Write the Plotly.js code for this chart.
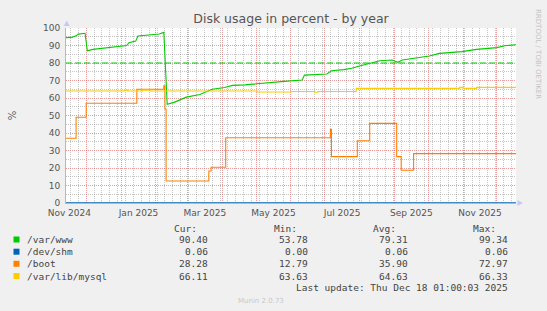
<!DOCTYPE html>
<html><head><meta charset="utf-8">
<script src="https://cdn.plot.ly/plotly-3.0.1.min.js"></script>
<style>html,body{margin:0;padding:0;background:#F0F0F0;overflow:hidden}</style>
</head><body><div id="chart" style="width:547px;height:311px"></div>
<script>
// ---- data ----
const xStart = "2024-11-13 01:00";
const xEnd = "2025-12-18 01:00";

const tickDates = ["2024-11-16","2025-01-16 12:00","2025-03-16 12:00","2025-05-16 12:00","2025-07-16 12:00","2025-09-16","2025-11-16"];
const tickLabels = ["Nov 2024","Jan 2025","Mar 2025","May 2025","Jul 2025","Sep 2025","Nov 2025"];

const wwwDates = ["2024-11-13","2024-11-19","2024-11-22","2024-11-24","2024-11-30","2024-12-02","2024-12-07","2024-12-13","2024-12-19","2024-12-25","2024-12-31","2025-01-06","2025-01-08","2025-01-12","2025-01-14","2025-01-16","2025-01-27","2025-02-04","2025-02-08","2025-02-09","2025-02-11","2025-02-17","2025-02-28","2025-03-12","2025-03-23","2025-04-03","2025-04-10","2025-04-21","2025-05-02","2025-05-13","2025-05-26","2025-06-11","2025-06-13","2025-07-03","2025-07-07","2025-07-18","2025-07-25","2025-08-01","2025-08-10","2025-08-19","2025-08-30","2025-09-04","2025-09-08","2025-09-23","2025-10-02","2025-10-11","2025-10-31","2025-11-13","2025-12-01","2025-12-08","2025-12-18"];
const wwwValues = [94.5,94.8,95.5,96.5,97.0,87.0,87.8,88.2,88.5,89.0,89.5,90.0,91.6,92.2,92.5,95.4,96.0,96.6,97.5,83.4,56.4,57.5,60.5,62.0,65.0,66.0,67.2,67.5,68.0,68.8,69.5,70.3,73.1,73.7,75.6,76.2,77.0,78.3,79.8,81.3,81.7,80.4,81.7,83.0,84.0,85.5,86.5,87.8,88.8,89.9,90.4];

const shmDates = ["2024-11-13","2025-12-18"];
const shmValues = [0.06,0.06];

const bootDates = ["2024-11-13","2024-11-22","2024-12-01","2025-01-15","2025-02-08","2025-02-09","2025-02-10","2025-03-20","2025-03-22","2025-04-04","2025-07-06","2025-07-07","2025-07-30","2025-08-10","2025-09-03","2025-09-07","2025-09-18","2025-12-18"];
const bootValues = [37.0,49.0,57.0,65.0,66.9,53.7,12.6,18.3,20.4,37.3,42.1,26.5,35.6,45.5,26.5,18.7,28.2,28.3];

const mysqlDates = ["2024-11-13","2025-01-04","2025-01-07","2025-01-20","2025-01-27","2025-05-02","2025-06-01","2025-06-22","2025-06-25","2025-07-29","2025-10-29","2025-11-01","2025-11-13","2025-12-18"];
const mysqlValues = [64.0,64.5,64.0,64.5,64.0,63.4,63.7,63.3,63.7,65.5,66.1,65.5,66.1,66.1];

const warningLevel = 80;

const seriesNames = ["/var/www","/dev/shm","/boot","/var/lib/mysql"];
const curValues = ["90.40","0.06","28.28","66.11"];
const minValues = ["53.78","0.00","12.79","63.63"];
const avgValues = ["79.31","0.06","35.90","64.63"];
const maxValues = ["99.34","0.06","72.97","66.33"];
const legendHeaders = ["Cur:","Min:","Avg:","Max:"];
const lastUpdate = "Last update: Thu Dec 18 01:00:03 2025";

// ---- styling / layout ----
const colors = ["#00CC00","#0066B3","#FF8000","#FFCC00"];
const L = 66, R = 516, T = 28, B = 203;
const W = R - L, H = B - T;
const px = x => (x - L) / W;
const py = y => (B - y) / H;
const mono = "DejaVu Sans Mono, monospace";
const sans = "DejaVu Sans, sans-serif";

const traces = [
  {x: wwwDates, y: wwwValues, mode:"lines", line:{color:colors[0], width:1.1}},
  {x: shmDates, y: shmValues, mode:"lines", line:{color:colors[1], width:1.1}},
  {x: bootDates, y: bootValues, mode:"lines", line:{color:colors[2], width:1.1, shape:"hv"}},
  {x: mysqlDates, y: mysqlValues, mode:"lines", line:{color:colors[3], width:1.1, shape:"hv"}},
  {x: [xStart, xEnd], y: [warningLevel, warningLevel], mode:"lines", xaxis:"x2",
   line:{color:"#00CC00", width:1.1, dash:"6px,3px"}}
];

const majorGrid = "rgba(220,90,90,0.6)";
const minorGrid = "rgba(140,140,140,0.5)";
const axisLine = "#AEB4E6";

const annotations = [];
const shapes = [];
const headerRight = [198.5, 298.5, 398, 497.5];
const colRight = [210, 310, 409.5, 509.5];
const rowY = [239.5, 251.7, 263.8, 276];
legendHeaders.forEach((h,i) => annotations.push({text:h, xref:"paper", yref:"paper", x:px(headerRight[i]), y:py(228), xanchor:"right", yanchor:"middle", showarrow:false, font:{family:mono, size:9.5, color:"#444"}}));
const cols = [curValues, minValues, avgValues, maxValues];
seriesNames.forEach((n,r) => {
  annotations.push({text:n, xref:"paper", yref:"paper", x:px(25), y:py(rowY[r]), xanchor:"left", yanchor:"middle", showarrow:false, font:{family:mono, size:9.5, color:"#444"}});
  cols.forEach((c,i) => annotations.push({text:c[r], xref:"paper", yref:"paper", x:px(colRight[i]), y:py(rowY[r]), xanchor:"right", yanchor:"middle", showarrow:false, font:{family:mono, size:9.5, color:"#444"}}));
  shapes.push({type:"rect", xref:"paper", yref:"paper", x0:px(13.5), x1:px(19.5), y0:py(rowY[r]+3), y1:py(rowY[r]-3), fillcolor:colors[r], line:{width:0}});
});
annotations.push({text:lastUpdate, xref:"paper", yref:"paper", x:px(509.5), y:py(287.5), xanchor:"right", yanchor:"middle", showarrow:false, font:{family:mono, size:9.5, color:"#444"}});
annotations.push({text:"Munin 2.0.73", xref:"paper", yref:"paper", x:px(261), y:py(300.5), xanchor:"center", yanchor:"middle", showarrow:false, font:{family:sans, size:7, color:"#C8C8C8"}});
annotations.push({text:"RRDTOOL / TOBI OETIKER", xref:"paper", yref:"paper", x:px(538), y:py(54), xanchor:"center", yanchor:"middle", textangle:90, showarrow:false, font:{family:sans, size:7, color:"#C4C4C4"}});

// axis arrows
shapes.push({type:"path", xref:"paper", yref:"paper", path:`M ${px(63.7)} ${py(26)} L ${px(69.7)} ${py(26)} L ${px(66.7)} ${py(20.5)} Z`, fillcolor:"#C6CAF2", line:{width:0}});
shapes.push({type:"path", xref:"paper", yref:"paper", path:`M ${px(517.5)} ${py(200)} L ${px(517.5)} ${py(206)} L ${px(523)} ${py(203)} Z`, fillcolor:"#C6CAF2", line:{width:0}});

const layout = {
  width:547, height:311,
  paper_bgcolor:"#F0F0F0", plot_bgcolor:"#FFFFFF",
  margin:{l:L, r:547-R, t:T, b:311-B, pad:0},
  showlegend:false,
  title:{text:"Disk usage in percent - by year", font:{family:sans, size:12.5, color:"#555"}, x:0.5, xref:"paper", y:1-18.5/311, yanchor:"middle"},
  xaxis:{type:"date", range:[xStart, xEnd], showticklabels:false, ticks:"",
    dtick:"M1", tick0:"2024-12-01", showgrid:true, gridcolor:majorGrid, griddash:"1px,1px", gridwidth:1,
    minor:{dtick:604800000, tick0:"2024-11-17", showgrid:true, gridcolor:minorGrid, griddash:"1px,1px", gridwidth:1},
    showline:true, linecolor:axisLine, linewidth:1, zeroline:false, fixedrange:true},
  xaxis2:{type:"date", overlaying:"x", anchor:"y", side:"bottom", range:[xStart, xEnd],
    tickmode:"array", tickvals:tickDates, ticktext:tickLabels, ticks:"", showgrid:false, showline:false, zeroline:false,
    ticklabelstandoff:3, tickfont:{family:sans, size:9, color:"#555"}, fixedrange:true},
  yaxis:{range:[0,100], dtick:10, tick0:0, ticks:"", showgrid:true, gridcolor:majorGrid, griddash:"1px,1px", gridwidth:1,
    minor:{dtick:5, showgrid:true, gridcolor:minorGrid, griddash:"1px,1px", gridwidth:1},
    showline:true, linecolor:axisLine, linewidth:1, zeroline:false,
    tickfont:{family:sans, size:9, color:"#555"}, ticklabelstandoff:3,
    title:{text:"%", font:{family:sans, size:10, color:"#555"}, standoff:24}, fixedrange:true},
  annotations, shapes
};
Plotly.newPlot("chart", traces, layout, {staticPlot:true, displayModeBar:false});
</script></body></html>
